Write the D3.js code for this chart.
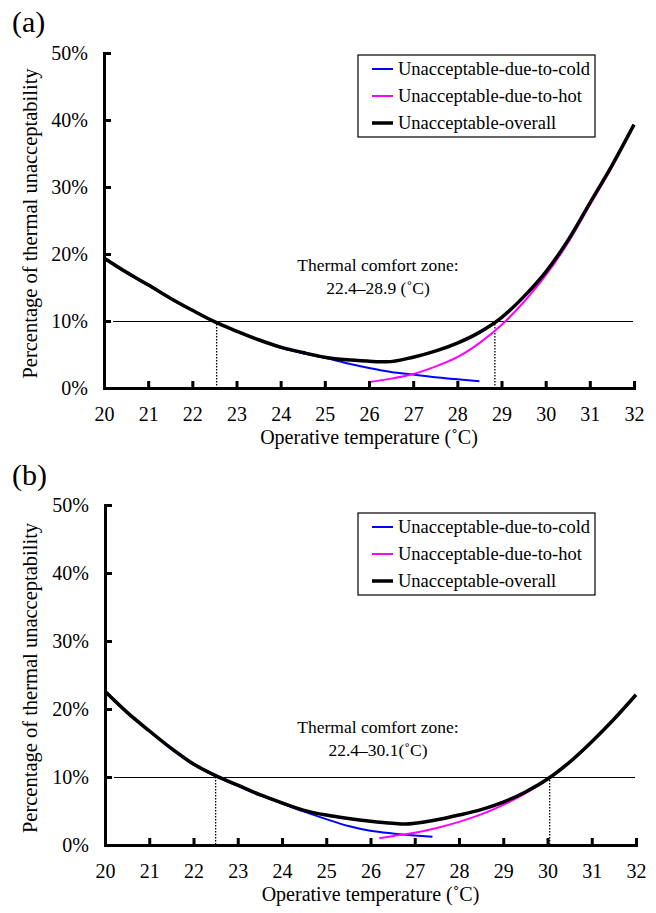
<!DOCTYPE html>
<html>
<head>
<meta charset="utf-8">
<script src="https://cdn.jsdelivr.net/npm/d3@7"></script>
<style>
  body { margin: 0; background: #fff; }
  svg { display: block; font-family: "Liberation Serif", "Times New Roman", serif; }
</style>
</head>
<body>
<svg id="chart" width="656" height="913"></svg>
<script>
// x ticks (operative temperature, deg C) and y ticks (percent)
var xTicks = [20, 21, 22, 23, 24, 25, 26, 27, 28, 29, 30, 31, 32];
var yTicks = [0, 10, 20, 30, 40, 50];
var seriesNames = ["Unacceptable-due-to-cold", "Unacceptable-due-to-hot", "Unacceptable-overall"];
var seriesColors = ["#0000ff", "#ff00ff", "#000000"];

// panel (a)
var coldTempA = [20, 20.5, 21, 21.5, 22, 22.5, 23, 23.5, 24, 24.5, 25, 25.5, 26, 26.5, 27, 27.5, 28, 28.5];
var coldA     = [19.3, 17.2, 15.3, 13.4, 11.6, 9.9, 8.5, 7.2, 6.0, 5.2, 4.5, 3.7, 3.0, 2.4, 2.0, 1.6, 1.3, 1.0];
var hotTempA  = [26, 26.5, 27, 27.5, 28, 28.5, 29, 29.5, 30, 30.5, 31, 31.5, 32];
var hotA      = [0.9, 1.4, 2.1, 3.2, 4.6, 6.7, 9.4, 12.8, 16.8, 21.6, 27.3, 33.0, 39.3];
var allTempA  = [20, 20.5, 21, 21.5, 22, 22.5, 23, 23.5, 24, 24.5, 25, 25.5, 26, 26.4, 27, 27.5, 28, 28.5, 29, 29.5, 30, 30.5, 31, 31.5, 32];
var allA      = [19.4, 17.3, 15.4, 13.4, 11.6, 9.9, 8.5, 7.2, 6.1, 5.3, 4.6, 4.2, 4.0, 3.9, 4.6, 5.5, 6.7, 8.3, 10.5, 13.6, 17.3, 22.0, 27.6, 33.2, 39.3];
var zoneA     = [22.55, 28.85];

// panel (b)
var coldTempB = [20, 20.5, 21, 21.5, 22, 22.5, 23, 23.5, 24, 24.5, 25, 25.5, 26, 26.5, 27, 27.4];
var coldB     = [22.5, 19.4, 16.7, 14.1, 11.8, 10.1, 8.7, 7.3, 6.1, 4.9, 3.8, 2.8, 2.1, 1.7, 1.4, 1.2];
var hotTempB  = [26.2, 26.5, 27, 27.5, 28, 28.5, 29, 29.5, 30, 30.5, 31, 31.5, 32];
var hotB      = [1.0, 1.3, 1.8, 2.5, 3.4, 4.5, 5.9, 7.6, 9.6, 12.1, 15.1, 18.4, 22.0];
var allTempB  = [20, 20.5, 21, 21.5, 22, 22.5, 23, 23.5, 24, 24.5, 25, 25.5, 26, 26.5, 26.8, 27, 27.5, 28, 28.5, 29, 29.5, 30, 30.5, 31, 31.5, 32];
var allB      = [22.6, 19.5, 16.8, 14.2, 11.9, 10.2, 8.8, 7.4, 6.2, 5.1, 4.4, 3.9, 3.5, 3.2, 3.1, 3.2, 3.7, 4.4, 5.2, 6.3, 7.8, 9.7, 12.2, 15.2, 18.5, 22.1];
var zoneB     = [22.5, 30.05];

var limit = 10;

var svg = d3.select("#chart");

function zip(t, v) {
	return t.map(function(d, i) { return [d, v[i]]; });
}

function drawPanel(p) {
	var x = d3.scaleLinear().domain([20, 32]).range([p.x0, p.x1]);
	var y = d3.scaleLinear().domain([0, 50]).range([p.y0, p.y1]);
	var g = svg.append("g");

	g.append("text").attr("x", 12).attr("y", p.labelY)
		.attr("font-size", "30px").text(p.label);

	// 10% acceptability line
	g.append("line")
		.attr("x1", x(20) + 9).attr("x2", x(32) - 1)
		.attr("y1", y(limit) + 0.5).attr("y2", y(limit) + 0.5)
		.attr("stroke", "#000").attr("stroke-width", 1)
		.attr("shape-rendering", "crispEdges");

	// dotted lines at the comfort zone limits
	p.zone.forEach(function(t) {
		g.append("line")
			.attr("x1", x(t)).attr("x2", x(t))
			.attr("y1", y(limit)).attr("y2", y(0))
			.attr("stroke", "#000").attr("stroke-width", 1.3)
			.attr("stroke-dasharray", "1.5,1.5");
	});

	var line = d3.line()
		.x(function(d) { return x(d[0]); })
		.y(function(d) { return y(d[1]); })
		.curve(d3.curveMonotoneX);

	g.append("path").datum(zip(p.coldT, p.cold))
		.attr("d", line).attr("fill", "none")
		.attr("stroke", seriesColors[0]).attr("stroke-width", 2);
	g.append("path").datum(zip(p.hotT, p.hot))
		.attr("d", line).attr("fill", "none")
		.attr("stroke", seriesColors[1]).attr("stroke-width", 2);
	g.append("path").datum(zip(p.allT, p.all))
		.attr("d", line).attr("fill", "none")
		.attr("stroke", seriesColors[2]).attr("stroke-width", 3.5);

	// axes
	var xAxis = g.append("g")
		.attr("transform", "translate(0," + y(0) + ")")
		.call(d3.axisBottom(x).tickValues(xTicks).tickSizeInner(-7).tickSizeOuter(0).tickPadding(19));
	var yAxis = g.append("g")
		.attr("transform", "translate(" + x(20) + ",0)")
		.call(d3.axisLeft(y).tickValues(yTicks).tickSizeInner(-7).tickSizeOuter(0).tickPadding(16)
			.tickFormat(function(d) { return d + "%"; }));
	[xAxis, yAxis].forEach(function(a) {
		a.select(".domain").attr("stroke-width", 3).attr("stroke-linecap", "square");
		a.selectAll(".tick line").attr("stroke-width", 3);
		a.selectAll(".tick text").attr("font-size", "20px").attr("fill", "#000")
			.attr("font-family", "Liberation Serif, Times New Roman, serif");
	});

	g.append("text")
		.attr("x", (p.x0 + p.x1) / 2).attr("y", y(0) + 56)
		.attr("text-anchor", "middle").attr("font-size", "20px")
		.text("Operative temperature (˚C)");
	g.append("text")
		.attr("transform", "translate(37," + ((p.y0 + p.y1) / 2 + 3) + ") rotate(-90)")
		.attr("text-anchor", "middle").attr("font-size", "20.5px")
		.text("Percentage of thermal unacceptability");

	// comfort zone note
	g.append("text").attr("x", 378).attr("y", p.noteY)
		.attr("text-anchor", "middle").attr("font-size", "17.5px")
		.text("Thermal comfort zone:");
	g.append("text").attr("x", 378).attr("y", p.noteY + 23)
		.attr("text-anchor", "middle").attr("font-size", "17.5px")
		.text(p.note);

	// legend
	var lg = g.append("g").attr("transform", "translate(358," + p.legY + ")");
	lg.append("rect").attr("width", 237).attr("height", 82)
		.attr("fill", "#fff").attr("stroke", "#000").attr("stroke-width", 1.2);
	seriesNames.forEach(function(name, i) {
		var yy = 14 + i * 27;
		lg.append("line").attr("x1", 14).attr("x2", 35).attr("y1", yy).attr("y2", yy)
			.attr("stroke", seriesColors[i]).attr("stroke-width", i == 2 ? 3.5 : 2);
		lg.append("text").attr("x", 40).attr("y", yy + 6)
			.attr("font-size", "18.5px").text(name);
	});
}

drawPanel({
	label: "(a)", labelY: 32,
	x0: 104, x1: 634, y0: 388, y1: 53,
	coldT: coldTempA, cold: coldA, hotT: hotTempA, hot: hotA, allT: allTempA, all: allA,
	zone: zoneA, noteY: 271, note: "22.4–28.9 (˚C)", legY: 55
});
drawPanel({
	label: "(b)", labelY: 485,
	x0: 105, x1: 636, y0: 845, y1: 505,
	coldT: coldTempB, cold: coldB, hotT: hotTempB, hot: hotB, allT: allTempB, all: allB,
	zone: zoneB, noteY: 733, note: "22.4–30.1(˚C)", legY: 513
});
</script>
</body>
</html>
